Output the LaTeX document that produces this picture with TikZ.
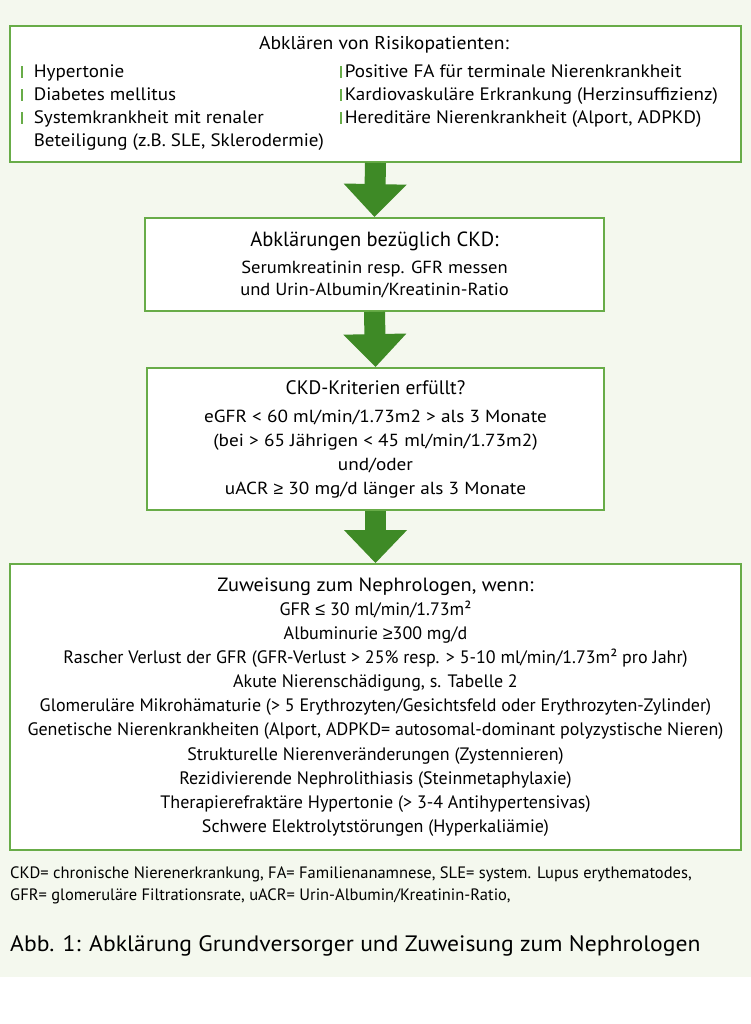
\documentclass[tikz,border=0pt]{standalone}
\usepackage{fontspec}
\setmainfont{PT Sans}
\newfontfamily\riskfont[FakeStretch=1.06]{PT Sans}
\newfontfamily\wideAfont[FakeStretch=1.06]{PT Sans}
\newfontfamily\wideBfont[FakeStretch=1.1]{PT Sans}
\newfontfamily\symfont{Liberation Sans}
\usetikzlibrary{positioning,arrows.meta}
\definecolor{paper}{RGB}{244,248,238}
\definecolor{frame}{RGB}{104,172,72}
\definecolor{leaf}{RGB}{62,138,38}
\newcommand{\riskbar}{\textcolor{frame}{\rule{1.6pt}{12pt}}}
\newcommand{\geqsym}{{\symfont ≥}}
\newcommand{\leqsym}{{\symfont ≤}}

\begin{document}
\begin{tikzpicture}[x=1pt,y=-1pt]
    \tikzstyle{panel} = [draw=frame, line width=1.8pt, fill=white, inner sep=0pt, align=center]
    \tikzstyle{flow} = [leaf, line width=21pt, -{Triangle[width=61pt,length=33pt]}]
    \useasboundingbox (0,0) rectangle (751,1024);
    \fill[paper] (0,0) rectangle (751,977);
    % Risikopatienten
    \node[panel, minimum width=731pt, minimum height=136pt] (risk) at (375.5,94) {};
    \node[anchor=base, font=\riskfont\fontsize{18.5}{23}\selectfont] (risktitle) at (384,50) {Abklären von Risikopatienten:};
    \node[anchor=base west, inner sep=0pt, font=\riskfont\fontsize{18}{23}\selectfont] (riskleft) at (21,78) {\begin{tabular}[t]{@{}l@{\hspace{11pt}}l@{}}
        \riskbar & Hypertonie\\
        \riskbar & Diabetes mellitus\\
        \riskbar & Systemkrankheit mit renaler\\
                 & Beteiligung (z.B. SLE, Sklerodermie)
    \end{tabular}};
    \node[anchor=base west, inner sep=0pt, font=\riskfont\fontsize{18}{23}\selectfont] (riskright) at (340,78) {\begin{tabular}[t]{@{}l@{\hspace{3pt}}l@{}}
        \riskbar & Positive FA für terminale Nierenkrankheit\\
        \riskbar & Kardiovaskuläre Erkrankung (Herzinsuffizienz)\\
        \riskbar & Hereditäre Nierenkrankheit (Alport, ADPKD)
    \end{tabular}};
    % CKD
    \node[panel, minimum width=459pt, minimum height=93pt, font=\wideAfont\fontsize{17.5}{22}\selectfont] (ckd) at (374.5,264.5) {{\rmfamily\fontsize{20.5}{22}\selectfont Abklärungen bezüglich CKD:}\\[5pt]
        Serumkreatinin resp. GFR messen\\
        und Urin-Albumin/Kreatinin-Ratio};
    \node[panel, minimum width=457pt, minimum height=142pt, font=\wideBfont\fontsize{17.5}{24}\selectfont] (crit) at (375.5,439) {{\rmfamily\fontsize{19.5}{24}\selectfont CKD-Kriterien erfüllt?}\\[4pt]
        eGFR < 60 ml/min/1.73m2 > als 3 Monate\\
        (bei > 65 Jährigen < 45 ml/min/1.73m2)\\
        und/oder\\
        uACR \geqsym\ 30 mg/d länger als 3 Monate};
    % Zuweisung
    \node[panel, minimum width=731pt, minimum height=286pt, font=\fontsize{18}{24.1}\selectfont] (refer) at (375.5,707) {{\riskfont\fontsize{19.2}{24.1}\selectfont Zuweisung zum Nephrologen, wenn:}\\
        GFR \leqsym\ 30 ml/min/1.73m²\\
        Albuminurie \geqsym300 mg/d\\
        Rascher Verlust der GFR (GFR-Verlust > 25\% resp. > 5-10 ml/min/1.73m² pro Jahr)\\
        Akute Nierenschädigung, s. Tabelle 2\\
        Glomeruläre Mikrohämaturie (> 5 Erythrozyten/Gesichtsfeld oder Erythrozyten-Zylinder)\\
        Genetische Nierenkrankheiten (Alport, ADPKD= autosomal-dominant polyzystische Nieren)\\
        Strukturelle Nierenveränderungen (Zystennieren)\\
        Rezidivierende Nephrolithiasis (Steinmetaphylaxie)\\
        Therapierefraktäre Hypertonie (> 3-4 Antihypertensivas)\\
        Schwere Elektrolytstörungen (Hyperkaliämie)};
    \draw[flow] (risk.south) -- (ckd.north);
    \draw[flow] (ckd.south) -- (crit.north);
    \draw[flow] (crit.south) -- (refer.north);
    % Legende
    \node[anchor=base west, inner sep=0pt, align=left, font=\fontsize{16.5}{22}\selectfont] (note) at (10,900) {CKD= chronische Nierenerkrankung, FA= Familienanamnese, SLE= system. Lupus erythematodes,\\
        GFR= glomeruläre Filtrationsrate, uACR= Urin-Albumin/Kreatinin-Ratio,};
    \node[anchor=base west, inner sep=0pt, font=\riskfont\fontsize{22.3}{26}\selectfont] (caption) at (10,951) {Abb. 1: Abklärung Grundversorger und Zuweisung zum Nephrologen};
\end{tikzpicture}
\end{document}
